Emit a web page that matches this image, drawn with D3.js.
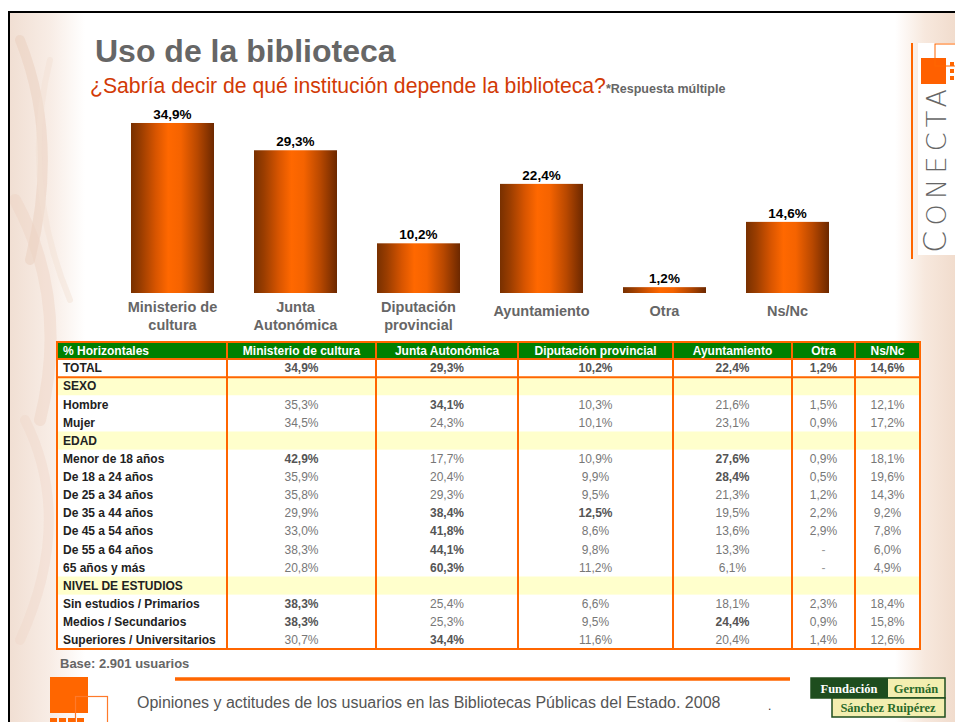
<!DOCTYPE html>
<html>
<head>
<meta charset="utf-8">
<script src="https://cdn.jsdelivr.net/npm/d3@7"></script>
<style>
  html, body { margin: 0; padding: 0; background: #fff; }
  svg { display: block; font-family: "Liberation Sans", Arial, sans-serif; }
</style>
</head>
<body>
<svg id="chart" width="955" height="722"></svg>
<script>
// ---------------- DATA ----------------
const categories = ["Ministerio de cultura", "Junta Autonómica", "Diputación provincial", "Ayuntamiento", "Otra", "Ns/Nc"];
const categoryLabelLines = [["Ministerio de", "cultura"], ["Junta", "Autonómica"], ["Diputación", "provincial"], ["Ayuntamiento"], ["Otra"], ["Ns/Nc"]];
const values = [34.9, 29.3, 10.2, 22.4, 1.2, 14.6];

const tableHeader = ["% Horizontales", "Ministerio de cultura", "Junta Autonómica", "Diputación provincial", "Ayuntamiento", "Otra", "Ns/Nc"];
const rowLabels = ["TOTAL", "SEXO", "Hombre", "Mujer", "EDAD", "Menor de 18 años", "De 18 a 24 años", "De 25 a 34 años",
  "De 35 a 44 años", "De 45 a 54 años", "De 55 a 64 años", "65 años y más", "NIVEL DE ESTUDIOS",
  "Sin estudios / Primarios", "Medios / Secundarios", "Superiores / Universitarios"];
const sectionRows = ["SEXO", "EDAD", "NIVEL DE ESTUDIOS"];
const rowValues = [
  [34.9, 29.3, 10.2, 22.4, 1.2, 14.6],
  null,
  [35.3, 34.1, 10.3, 21.6, 1.5, 12.1],
  [34.5, 24.3, 10.1, 23.1, 0.9, 17.2],
  null,
  [42.9, 17.7, 10.9, 27.6, 0.9, 18.1],
  [35.9, 20.4, 9.9, 28.4, 0.5, 19.6],
  [35.8, 29.3, 9.5, 21.3, 1.2, 14.3],
  [29.9, 38.4, 12.5, 19.5, 2.2, 9.2],
  [33.0, 41.8, 8.6, 13.6, 2.9, 7.8],
  [38.3, 44.1, 9.8, 13.3, null, 6.0],
  [20.8, 60.3, 11.2, 6.1, null, 4.9],
  null,
  [38.3, 25.4, 6.6, 18.1, 2.3, 18.4],
  [38.3, 25.3, 9.5, 24.4, 0.9, 15.8],
  [30.7, 34.4, 11.6, 20.4, 1.4, 12.6]
];
const rowBold = [
  [1, 1, 1, 1, 1, 1],
  null,
  [0, 1, 0, 0, 0, 0],
  [0, 0, 0, 0, 0, 0],
  null,
  [1, 0, 0, 1, 0, 0],
  [0, 0, 0, 1, 0, 0],
  [0, 0, 0, 0, 0, 0],
  [0, 1, 1, 0, 0, 0],
  [0, 1, 0, 0, 0, 0],
  [0, 1, 0, 0, 0, 0],
  [0, 1, 0, 0, 0, 0],
  null,
  [1, 0, 0, 0, 0, 0],
  [1, 0, 0, 1, 0, 0],
  [0, 1, 0, 0, 0, 0]
];

const titleText = "Uso de la biblioteca";
const subtitleText = "¿Sabría decir de qué institución depende la biblioteca?";
const noteText = "*Respuesta múltiple";
const baseText = "Base: 2.901 usuarios";
const footerText = "Opiniones y actitudes de los usuarios en las Bibliotecas Públicas del Estado. 2008";

// ---------------- DRAW ----------------
const fmt = v => v == null ? "-" : d3.format(".1f")(v).replace(".", ",") + "%";
const svg = d3.select("#chart");
const defs = svg.append("defs");

const barGrad = defs.append("linearGradient").attr("id", "barGrad").attr("x1", "0").attr("x2", "1").attr("y1", "0").attr("y2", "0");
[[0, "#783000"], [0.12, "#9a3d00"], [0.3, "#d85500"], [0.45, "#ff6800"], [0.6, "#f56300"], [0.8, "#b84800"], [1, "#6c2800"]]
  .forEach(([o, c]) => barGrad.append("stop").attr("offset", o).attr("stop-color", c));

const sideGrad = defs.append("linearGradient").attr("id", "sideGrad").attr("x1", "0").attr("x2", "1");
sideGrad.append("stop").attr("offset", 0).attr("stop-color", "#f1dfd3");
sideGrad.append("stop").attr("offset", 0.55).attr("stop-color", "#f8ede6");
sideGrad.append("stop").attr("offset", 1).attr("stop-color", "#ffffff");
const sideGradR = defs.append("linearGradient").attr("id", "sideGradR").attr("x1", "0").attr("x2", "1");
sideGradR.append("stop").attr("offset", 0).attr("stop-color", "#ffffff");
sideGradR.append("stop").attr("offset", 0.5).attr("stop-color", "#f7e8dd");
sideGradR.append("stop").attr("offset", 1).attr("stop-color", "#f1dccd");

// background decorations
svg.append("rect").attr("x", 10).attr("y", 13).attr("width", 75).attr("height", 709).attr("fill", "url(#sideGrad)");
const deco = svg.append("g").attr("fill", "none").attr("stroke-linecap", "round");
[["M20,40 Q60,140 30,260", "#e9cbbb", 10], ["M15,200 Q70,300 40,420", "#eed3c4", 12], ["M25,420 Q75,520 20,640", "#f0d8ca", 10],
 ["M50,60 Q20,180 70,300", "#f2dfd3", 6]]
  .forEach(([d, c, w]) => deco.append("path").attr("d", d).attr("stroke", c).attr("stroke-width", w).attr("opacity", 0.45));
svg.append("rect").attr("x", 895).attr("y", 13).attr("width", 60).attr("height", 709).attr("fill", "url(#sideGradR)");
[["M905,40 Q940,200 915,400", "#eccdbb", 9], ["M935,300 Q905,450 940,650", "#efd6c8", 10]]
  .forEach(([d, c, w]) => deco.append("path").attr("d", d).attr("stroke", c).attr("stroke-width", w).attr("opacity", 0.45));

// frame
svg.append("line").attr("x1", 8).attr("x2", 955).attr("y1", 12).attr("y2", 12).attr("stroke", "#000").attr("stroke-width", 2);
svg.append("line").attr("x1", 9).attr("x2", 9).attr("y1", 12).attr("y2", 722).attr("stroke", "#000").attr("stroke-width", 2);

// title
svg.append("text").attr("x", 95).attr("y", 62).attr("font-size", 32).attr("font-weight", "bold").attr("fill", "#666").text(titleText);
const sub = svg.append("text").attr("x", 90).attr("y", 93);
sub.append("tspan").attr("font-size", 21.2).attr("fill", "#d23a05").text(subtitleText);
sub.append("tspan").attr("font-size", 12.5).attr("font-weight", "bold").attr("fill", "#666").text(noteText);

// CONECTA logo
svg.append("line").attr("x1", 912).attr("x2", 912).attr("y1", 43).attr("y2", 259).attr("stroke", "#ff6600").attr("stroke-width", 2);
svg.append("rect").attr("x", 918).attr("y", 43).attr("width", 37).attr("height", 212).attr("fill", "#fff");
svg.append("rect").attr("x", 921).attr("y", 58).attr("width", 25).attr("height", 26).attr("fill", "#ff6000");
svg.append("rect").attr("x", 935).attr("y", 44).attr("width", 22).attr("height", 22).attr("fill", "none").attr("stroke", "#ff6600").attr("stroke-width", 1);
for (let i = 0; i < 3; i++) svg.append("rect").attr("x", 950).attr("y", 62 + i * 7).attr("width", 4).attr("height", 4).attr("fill", "#ff6600");
svg.append("text").attr("transform", "translate(946,253) rotate(-90)").attr("font-size", 27).attr("fill", "#666")
  .attr("font-family", "'DejaVu Sans', sans-serif").attr("font-weight", 200)
  .attr("textLength", 164).attr("lengthAdjust", "spacing")
  .call(t => { t.append("tspan").attr("font-size", 32).text("C"); t.append("tspan").text("ONECTA"); });

// bars
const x = d3.scaleBand().domain(categories).range([111, 849]).paddingInner(40 / 123).paddingOuter(0.1626);
const y = d3.scaleLinear().domain([0, 35]).range([293, 122.5]);
const bars = svg.append("g");
bars.selectAll("rect").data(categories).join("rect")
  .attr("x", d => x(d)).attr("width", x.bandwidth())
  .attr("y", (d, i) => y(values[i])).attr("height", (d, i) => y(0) - y(values[i]))
  .attr("fill", "url(#barGrad)");
bars.selectAll("text.val").data(categories).join("text").attr("class", "val")
  .attr("x", d => x(d) + x.bandwidth() / 2).attr("y", (d, i) => y(values[i]) - 4)
  .attr("text-anchor", "middle").attr("font-size", 13.5).attr("font-weight", "bold").attr("fill", "#000")
  .text((d, i) => fmt(values[i]));
const lbl = bars.selectAll("text.cat").data(categories).join("text").attr("class", "cat")
  .attr("text-anchor", "middle").attr("font-size", 14.5).attr("font-weight", "bold").attr("fill", "#666");
lbl.each(function (d, i) {
  const lines = categoryLabelLines[i];
  const cx = x(d) + x.bandwidth() / 2;
  const y0 = lines.length > 1 ? 312 : 316;
  lines.forEach((ln, j) => d3.select(this).append("tspan").attr("x", cx).attr("y", y0 + j * 18).text(ln));
});

// table
const colEdges = [57, 227, 376, 518, 673, 792, 855, 920];
const headerTop = 342, headerBottom = 359, tableBottom = 649;
const rowY = d3.scaleBand().domain(d3.range(rowLabels.length)).range([headerBottom, tableBottom]);
const tbl = svg.append("g").attr("font-size", 12);
tbl.append("rect").attr("x", colEdges[0]).attr("y", headerTop).attr("width", colEdges[7] - colEdges[0]).attr("height", headerBottom - headerTop).attr("fill", "#008000");
tbl.append("rect").attr("x", colEdges[0]).attr("y", headerBottom).attr("width", colEdges[7] - colEdges[0]).attr("height", tableBottom - headerBottom).attr("fill", "#fff");
rowLabels.forEach((r, i) => {
  if (sectionRows.includes(r)) {
    tbl.append("rect").attr("x", colEdges[0]).attr("y", rowY(i)).attr("width", colEdges[7] - colEdges[0]).attr("height", rowY.bandwidth()).attr("fill", "#ffffcc");
  }
});
tableHeader.forEach((h, j) => {
  const t = tbl.append("text").attr("y", (headerTop + headerBottom) / 2 + 4.3).attr("fill", "#fff").attr("font-weight", "bold").text(h);
  if (j === 0) t.attr("x", colEdges[0] + 6);
  else t.attr("x", (colEdges[j] + colEdges[j + 1]) / 2).attr("text-anchor", "middle");
});
rowLabels.forEach((r, i) => {
  const cy = rowY(i) + rowY.bandwidth() / 2 + 4.3;
  tbl.append("text").attr("x", colEdges[0] + 6).attr("y", cy).attr("font-weight", "bold").attr("fill", "#222").text(r);
  if (rowValues[i]) {
    rowValues[i].forEach((v, j) => {
      tbl.append("text").attr("x", (colEdges[j + 1] + colEdges[j + 2]) / 2).attr("y", cy)
        .attr("text-anchor", "middle").attr("font-weight", rowBold[i][j] ? "bold" : "normal")
        .attr("fill", rowBold[i][j] ? "#555" : (v == null ? "#999" : "#777")).text(fmt(v));
    });
  }
});
const bc = "#ff6600";
tbl.append("rect").attr("x", colEdges[0]).attr("y", headerTop).attr("width", colEdges[7] - colEdges[0]).attr("height", tableBottom - headerTop)
  .attr("fill", "none").attr("stroke", bc).attr("stroke-width", 2);
colEdges.slice(1, 7).forEach(cx => tbl.append("line").attr("x1", cx).attr("x2", cx).attr("y1", headerTop).attr("y2", tableBottom).attr("stroke", bc).attr("stroke-width", 2));
[headerBottom, rowY(1)].forEach(yy => tbl.append("line").attr("x1", colEdges[0]).attr("x2", colEdges[7]).attr("y1", yy).attr("y2", yy).attr("stroke", bc).attr("stroke-width", 2));

// base note
svg.append("text").attr("x", 60).attr("y", 668).attr("font-size", 13).attr("font-weight", "bold").attr("fill", "#666").text(baseText);

// footer
svg.append("line").attr("x1", 175).attr("x2", 790).attr("y1", 679).attr("y2", 679).attr("stroke", "#ff6600").attr("stroke-width", 3.5);
svg.append("rect").attr("x", 50).attr("y", 677).attr("width", 38).attr("height", 36).attr("fill", "#ff6600");
svg.append("rect").attr("x", 75.5).attr("y", 696.5).attr("width", 32).attr("height", 30).attr("fill", "none").attr("stroke", "#ff7a2a").attr("stroke-width", 1.2);
for (let i = 0; i < 4; i++) svg.append("rect").attr("x", 50 + i * 9).attr("y", 718).attr("width", 7).attr("height", 6).attr("fill", "#ff6600");
svg.append("text").attr("x", 137).attr("y", 708).attr("font-size", 16).attr("fill", "#555").text(footerText);
svg.append("text").attr("x", 768).attr("y", 710).attr("font-size", 12).attr("fill", "#333").text(".");

// Fundación logo
const fg = svg.append("g").attr("font-family", "'Liberation Serif', serif").attr("font-size", 12.5).attr("font-weight", "bold");
fg.append("rect").attr("x", 811).attr("y", 678).attr("width", 134).attr("height", 20).attr("fill", "#f3eeb0").attr("stroke", "#1e4d1e").attr("stroke-width", 1.5);
fg.append("rect").attr("x", 811).attr("y", 678).attr("width", 77).attr("height", 20).attr("fill", "#1e4d1e");
fg.append("rect").attr("x", 832).attr("y", 698).attr("width", 113).attr("height", 19).attr("fill", "#f3eeb0").attr("stroke", "#1e4d1e").attr("stroke-width", 1.5);
fg.append("text").attr("x", 849).attr("y", 693).attr("text-anchor", "middle").attr("fill", "#fff").text("Fundación");
fg.append("text").attr("x", 916).attr("y", 693).attr("text-anchor", "middle").attr("fill", "#2a6a2a").text("Germán");
fg.append("text").attr("x", 888).attr("y", 712).attr("text-anchor", "middle").attr("fill", "#2a6a2a").text("Sánchez Ruipérez");
</script>
</body>
</html>
